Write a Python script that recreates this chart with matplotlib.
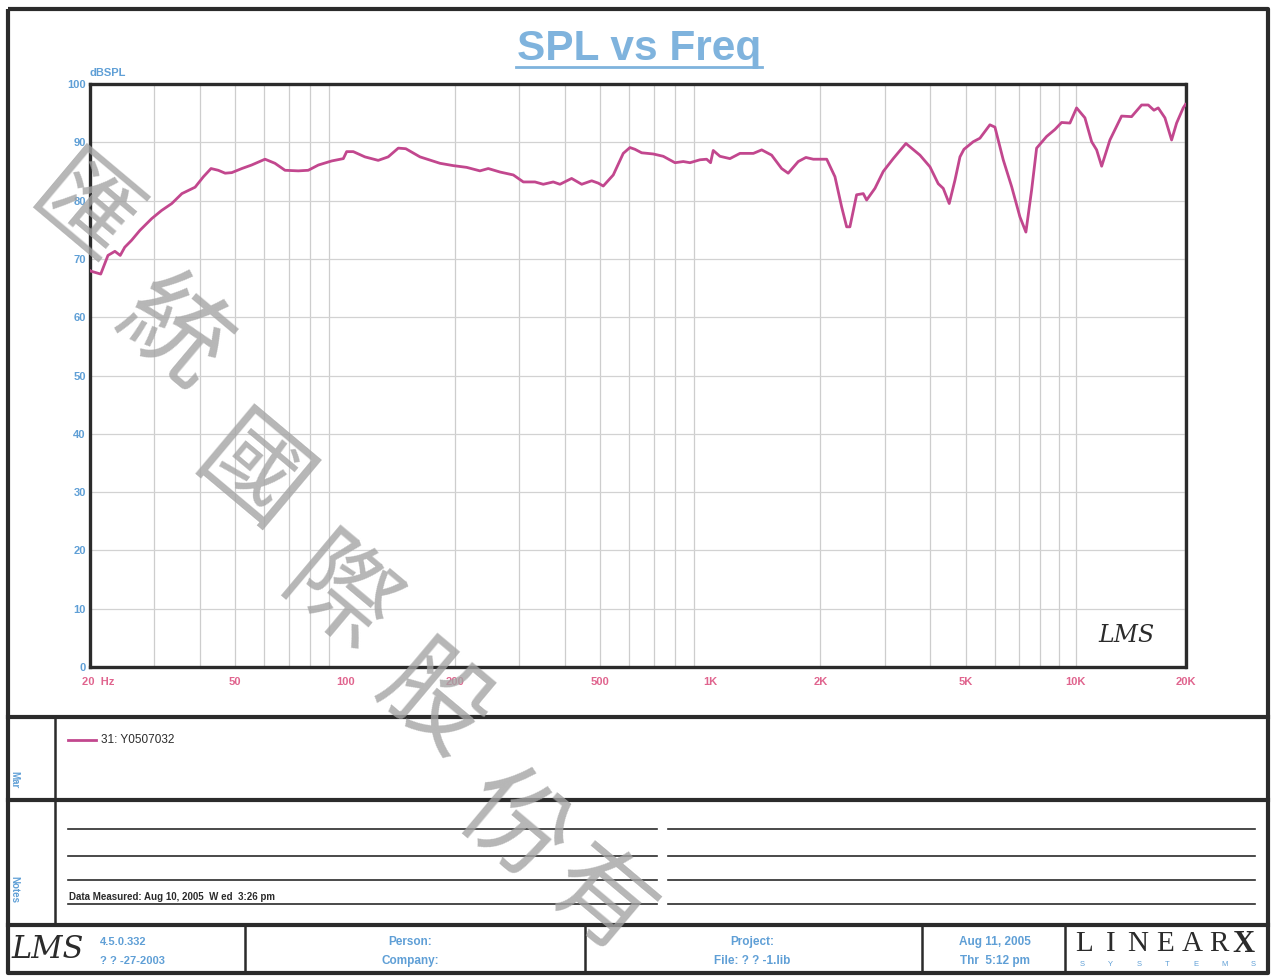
import numpy as np
import matplotlib
matplotlib.use("Agg")
import matplotlib.pyplot as plt
from matplotlib.transforms import ScaledTranslation

# ---------------- data ----------------
freq_hz = [20, 20.1, 21.4, 22.4, 23.4, 24.2, 24.9, 26.0, 27.4, 29.5, 31.4, 33.5,
           35.7, 38.8, 40.9, 42.9, 44.9, 46.9, 48.9, 52.1, 55.4, 60.3, 64.2, 68.4,
           74.4, 79.2, 84.4, 91.8, 98.8, 100.9, 105.2, 113.2, 123.1, 131.1, 139.7,
           146.5, 160.2, 181.7, 197.6, 215, 233.8, 246.4, 265.4, 288.6, 307.4,
           330.8, 348.6, 371.2, 387.2, 416.8, 444.2, 473, 493, 508.8, 542, 577.2,
           602, 621.4, 648.2, 697.2, 742.8, 799.8, 842.8, 879.2, 936.2, 976.6,
           1001, 1018, 1062, 1131, 1205, 1311, 1382, 1471, 1567, 1633, 1740, 1826,
           1913, 2082, 2193, 2288, 2361, 2410, 2514, 2622, 2678, 2822, 2974, 3167,
           3431, 3748, 3992, 4206, 4341, 4508, 4674, 4824, 4947, 5246, 5470, 5826,
           6014, 6337, 6682, 7041, 7311, 7579, 7822, 8330, 8779, 9156, 9650, 10064,
           10606, 11066, 11420, 11788, 12418, 13366, 14236, 15166, 15812, 16390,
           16838, 17566, 18322, 18910, 19712, 20000]
spl_db = [68.0, 67.9, 67.4, 70.6, 71.3, 70.6, 72.0, 73.2, 74.9, 76.9, 78.3, 79.5,
          81.2, 82.3, 84.1, 85.5, 85.2, 84.7, 84.8, 85.5, 86.1, 87.1, 86.4, 85.2,
          85.1, 85.2, 86.1, 86.8, 87.2, 88.4, 88.4, 87.5, 86.9, 87.5, 89.0,
          88.9, 87.5, 86.4, 86.0, 85.7, 85.1, 85.5, 84.9, 84.4, 83.2,
          83.2, 82.8, 83.2, 82.8, 83.8, 82.8, 83.4, 83.0, 82.5, 84.4, 88.1,
          89.1, 88.8, 88.2, 88.0, 87.6, 86.5, 86.7, 86.5, 87.0, 87.1,
          86.5, 88.6, 87.6, 87.2, 88.1, 88.1, 88.7, 87.8, 85.5, 84.7, 86.7, 87.4,
          87.1, 87.1, 84.1, 78.9, 75.5, 75.5, 81.0, 81.2, 80.1, 82.1, 85.0, 87.2,
          89.8, 87.8, 85.8, 82.9, 82.1, 79.5, 83.5, 87.5, 88.8, 90.1, 90.7, 93.0,
          92.6, 87.0, 82.4, 77.2, 74.6, 81.8, 89.0, 91.0, 92.2, 93.4, 93.3, 95.9,
          94.2, 90.1, 88.7, 85.9, 90.4, 94.5, 94.4, 96.4, 96.4, 95.5,
          95.9, 94.2, 90.4, 93.3, 95.9, 96.5]

x_tick_vals = [20, 50, 100, 200, 500, 1000, 2000, 5000, 10000, 20000]
x_tick_labels = ["20  Hz", "50", "100", "200", "500", "1K", "2K", "5K", "10K", "20K"]
y_tick_vals = list(range(0, 101, 10))
grid_freqs = [f * m for m in (1, 10, 100, 1000) for f in range(20, 100, 10)] + [10000, 20000]
legend_label = "31: Y0507032"
watermark_chars = ["匯", "統", "國", "際", "股", "份", "有"]

# ---------------- figure ----------------
W, H = 1275, 976
fig = plt.figure(figsize=(W / 100, H / 100), dpi=100)
fig.patch.set_facecolor("white")

BLUE = "#5f9fd6"
TITLE_BLUE = "#7fb3dd"
PINK = "#e0648e"
CURVE = "#c2478e"
DARK = "#2b2b2b"
SANS = "Liberation Sans"

# page background / frame axes in pixel coordinates
bg = fig.add_axes([0, 0, 1, 1])
bg.set_xlim(0, W)
bg.set_ylim(H, 0)
bg.axis("off")

thick = 3.0
bg.plot([8, 1268, 1268, 8, 8], [9, 9, 973, 973, 9], color=DARK, lw=thick, solid_capstyle="butt")
for yy in (717, 800, 925):
    bg.plot([8, 1268], [yy, yy], color=DARK, lw=thick)
bg.plot([55, 55], [717, 925], color=DARK, lw=1.8)
for xx in (245, 585, 922, 1065):
    bg.plot([xx, xx], [925, 973], color=DARK, lw=1.8)

# notes lines
for yy in (829, 856, 880, 904):
    bg.plot([68, 657], [yy, yy], color=DARK, lw=1.2)
    bg.plot([668, 1255], [yy, yy], color=DARK, lw=1.2)
bg.text(69, 902, "Data Measured: Aug 10, 2005  W ed  3:26 pm", fontsize=7, fontweight="bold",
        color=DARK, family=SANS, va="bottom", ha="left")

# side labels
bg.text(14, 780, "Mar", rotation=-90, fontsize=7, color=BLUE, family=SANS,
        fontweight="bold", ha="center", va="center")
bg.text(14, 890, "Notes", rotation=-90, fontsize=7, color=BLUE, family=SANS,
        fontweight="bold", ha="center", va="center")

# title
bg.text(639, 60, "SPL vs Freq", fontsize=30.5, fontweight="bold", color=TITLE_BLUE,
        family=SANS, ha="center", va="baseline")
bg.plot([516, 762], [67, 67], color=TITLE_BLUE, lw=2)
bg.text(90, 76, "dBSPL", fontsize=8, fontweight="bold", color=BLUE, family=SANS,
        ha="left", va="baseline")

# footer
bg.text(48, 950, "LMS", fontsize=22, style="italic", color=DARK, family="DejaVu Serif",
        ha="center", va="center")
bg.text(100, 942, "4.5.0.332", fontsize=8, fontweight="bold", color=BLUE, family=SANS, va="center")
bg.text(100, 961, "? ? -27-2003", fontsize=8, fontweight="bold", color=BLUE, family=SANS, va="center")
bg.text(410, 942, "Person:", fontsize=8.5, fontweight="bold", color=BLUE, family=SANS, ha="center", va="center")
bg.text(410, 961, "Company:", fontsize=8.5, fontweight="bold", color=BLUE, family=SANS, ha="center", va="center")
bg.text(752, 942, "Project:", fontsize=8.5, fontweight="bold", color=BLUE, family=SANS, ha="center", va="center")
bg.text(752, 961, "File: ? ? -1.lib", fontsize=8.5, fontweight="bold", color=BLUE, family=SANS, ha="center", va="center")
bg.text(995, 942, "Aug 11, 2005", fontsize=8.5, fontweight="bold", color=BLUE, family=SANS, ha="center", va="center")
bg.text(995, 961, "Thr  5:12 pm", fontsize=8.5, fontweight="bold", color=BLUE, family=SANS, ha="center", va="center")
for i, ch in enumerate("LINEAR"):
    bg.text(1084 + i * 27, 944, ch, fontsize=21, color=DARK, family="Liberation Serif",
            ha="center", va="center")
bg.text(1243, 944, "X", fontsize=22, fontweight="bold", color=DARK, family="Liberation Serif",
        ha="center", va="center")
for i, ch in enumerate("SYSTEMS"):
    bg.text(1082 + i * 28.5, 964, ch, fontsize=5.5, color=BLUE, family=SANS, ha="center", va="center")

# ---------------- main plot ----------------
L, R, T, B = 90, 1185.5, 84, 667
ax = fig.add_axes([L / W, 1 - B / H, (R - L) / W, (B - T) / H])
ax.set_facecolor("white")
ax.set_xscale("log")
ax.set_xlim(20, 20000)
ax.set_ylim(0, 100)
ax.plot(freq_hz, spl_db, color=CURVE, lw=2.0, zorder=3)

ax.set_xticks(x_tick_vals)
ax.set_xticklabels(x_tick_labels)
ax.xaxis.set_minor_locator(matplotlib.ticker.NullLocator())
ax.set_yticks(y_tick_vals)
ax.set_yticklabels([str(v) for v in y_tick_vals])
for f in grid_freqs:
    ax.axvline(f, color="#cdcdcd", lw=0.9, zorder=1)
for v in y_tick_vals:
    ax.axhline(v, color="#d2d2d2", lw=0.9, zorder=1)

ax.tick_params(axis="both", length=0)
ax.tick_params(axis="x", pad=7, labelsize=8, labelcolor=PINK)
ax.tick_params(axis="y", pad=3, labelsize=8, labelcolor=BLUE)
for lab in ax.get_xticklabels() + ax.get_yticklabels():
    lab.set_fontweight("bold")
    lab.set_family(SANS)
first = ax.get_xticklabels()[0]
first.set_horizontalalignment("left")
first.set_transform(first.get_transform() + ScaledTranslation(-8 / 100, 0, fig.dpi_scale_trans))

for sp in ax.spines.values():
    sp.set_linewidth(2.4)
    sp.set_color(DARK)

ax.text(0.972, 0.035, "LMS", transform=ax.transAxes, fontsize=17, style="italic",
        color=DARK, family="DejaVu Serif", ha="right", va="bottom")

# legend in the "Mar" panel
bg.plot([68, 96], [740, 740], color=CURVE, lw=2)
bg.text(101, 740, legend_label, fontsize=8.5, color=DARK, family=SANS, va="center", ha="left")

# ---------------- watermark overlay ----------------
ov = fig.add_axes([0, 0, 1, 1])
ov.set_xlim(0, W)
ov.set_ylim(H, 0)
ov.axis("off")
ov.patch.set_alpha(0)
wm_pos = [(82, 214), (172, 335), (250, 478), (337, 600), (432, 702), (512, 828), (600, 902)]
wm_size = [72, 76, 76, 76, 76, 76, 72]
for ch, (px, py), fs in zip(watermark_chars, wm_pos, wm_size):
    ov.text(px, py, ch, fontsize=fs, color="#a4a4a4", alpha=0.8, rotation=-40,
            family=["Noto Sans CJK TC", "DejaVu Sans"], ha="center", va="center", zorder=20)

fig.savefig("out.png", dpi=100, facecolor="white")
